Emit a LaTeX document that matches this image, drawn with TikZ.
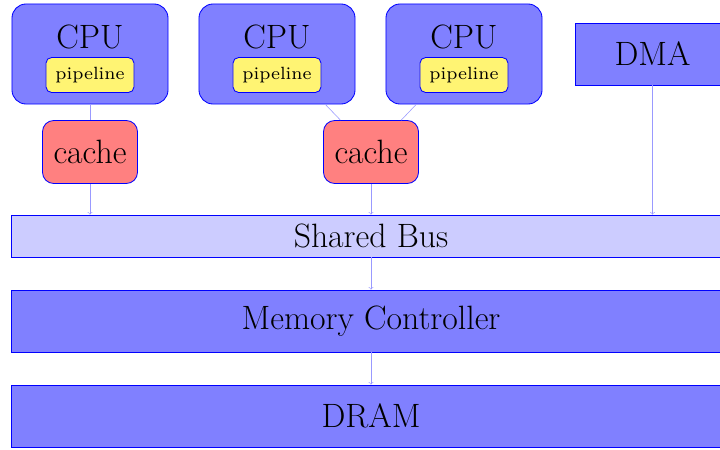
\documentclass[tikz,border=0pt]{standalone}
\definecolor{pipeyellow}{RGB}{255,244,115}
\begin{document}
\begin{tikzpicture}[x=0.025cm, y=-0.025cm,
    bigfont/.style={font=\fontsize{24}{28}\selectfont},
    cpubox/.style={draw=blue, fill=blue!50, semithick, rounded corners=10pt, minimum width=3.9cm, minimum height=2.5cm},
    pipebox/.style={draw=blue, fill=pipeyellow, semithick, rounded corners=4pt, minimum width=2.2cm, minimum height=0.875cm},
    cachebox/.style={draw=blue, fill=red!50, semithick, rounded corners=8pt, bigfont, minimum width=2.375cm, minimum height=1.575cm},
    bar/.style={draw=blue, fill=blue!50, semithick, bigfont, minimum width=17.95cm, minimum height=1.55cm},
    link/.style={blue!40}]
    \clip (0,0) rectangle (720,449);

    % Prozessoren mit Pipeline
    \foreach \i/\x in {1/90, 2/277, 3/464} {
        \node[cpubox] (cpu\i) at (\x,54) {};
        \node[bigfont] (cpulabel\i) at (\x,37) {CPU};
        \node[pipebox] (pipe\i) at (\x,75) {\scalebox{1.8}{\scriptsize pipeline}};
    }
    \node[draw=blue, fill=blue!50, semithick, bigfont, minimum width=3.875cm, minimum height=1.55cm] (dma) at (652.5,54) {DMA};

    % Caches
    \node[cachebox] (cache1) at (90,152) {cache};
    \node[cachebox] (cache2) at (371,152) {cache};

    % Bus, Controller, Speicher
    \node[bar, fill=blue!20, minimum height=1.05cm] (bus) at (371,236) {Shared Bus};
    \node[bar] (mc) at (371,321) {Memory Controller};
    \node[bar] (dram) at (371,416) {DRAM};

    % Verbindungen
    \draw[link] (cpu1) -- (cache1);
    \draw[link] (cpu2) -- (cache2);
    \draw[link] (cpu3) -- (cache2);
    \foreach \n in {cache1, cache2, dma} {
        \draw[link, ->] (\n) -- (\n |- bus.north);
    }
    \draw[link, ->] (bus) -- (mc);
    \draw[link, ->] (mc) -- (dram);
\end{tikzpicture}
\end{document}
